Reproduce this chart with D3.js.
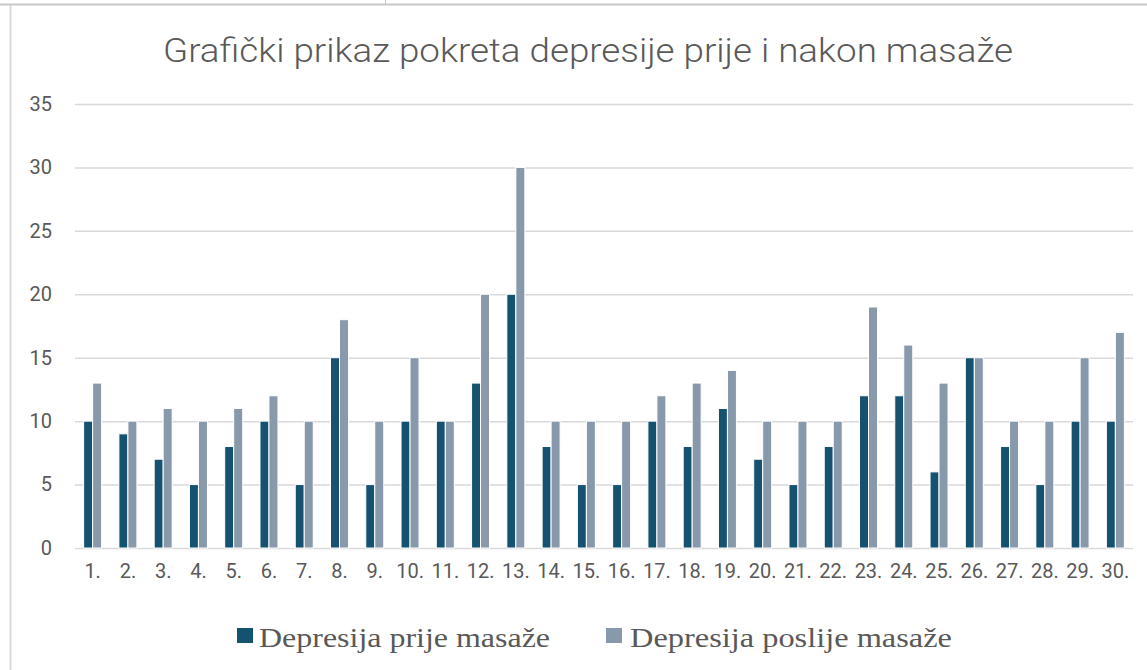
<!DOCTYPE html>
<html>
<head>
<meta charset="utf-8">
<script src="https://cdn.jsdelivr.net/npm/d3@7"></script>
<style>
  body { margin: 0; background: #fff; }
  svg { display: block; }
</style>
</head>
<body>
<div class="chart"></div>
<script>
const categories = ['1.', '2.', '3.', '4.', '5.', '6.', '7.', '8.', '9.', '10.',
    '11.', '12.', '13.', '14.', '15.', '16.', '17.', '18.', '19.', '20.',
    '21.', '22.', '23.', '24.', '25.', '26.', '27.', '28.', '29.', '30.'];
const prije = [10, 9, 7, 5, 8, 10, 5, 15, 5, 10, 10, 13, 20, 8, 5, 5, 10, 8, 11, 7,
    5, 8, 12, 12, 6, 15, 8, 5, 10, 10];
const poslije = [13, 10, 11, 10, 11, 12, 10, 18, 10, 15, 10, 20, 30, 10, 10, 10, 12, 13, 14, 10,
    10, 10, 19, 16, 13, 15, 10, 10, 15, 17];
const seriesNames = ['Depresija prije masaže', 'Depresija poslije masaže'];
const yTicks = [0, 5, 10, 15, 20, 25, 30, 35];
const title = 'Grafički prikaz pokreta depresije prije i nakon masaže';

const width = 1147, height = 670;
const colors = ['#145270', '#8799ab'];
const textColor = '#595959';

const svg = d3.select('.chart').append('svg')
    .attr('width', width)
    .attr('height', height);

// frame of the embedded chart object
svg.append('line').attr('x1', 0).attr('x2', width).attr('y1', 4.5).attr('y2', 4.5)
    .style('stroke', '#c8c8c8').style('stroke-width', 2);
svg.append('line').attr('x1', 10.5).attr('x2', 10.5).attr('y1', 5).attr('y2', height)
    .style('stroke', '#d9d9d9').style('stroke-width', 2);
svg.append('line').attr('x1', 385.5).attr('x2', 385.5).attr('y1', 0).attr('y2', 4)
    .style('stroke', '#c8c8c8');

const plot = {left: 75, right: 1133, top: 104, bottom: 548};

const x = d3.scaleBand()
    .domain(categories)
    .range([plot.left, plot.right])
    .paddingInner(0.49)
    .paddingOuter(0.245);

const x1 = d3.scaleBand()
    .domain([0, 1])
    .range([0, x.bandwidth()]);

const y = d3.scaleLinear()
    .domain([0, 35])
    .range([plot.bottom, plot.top]);

// title
svg.append('text')
    .attr('x', 588)
    .attr('y', 62)
    .attr('text-anchor', 'middle')
    .attr('textLength', 850)
    .attr('lengthAdjust', 'spacingAndGlyphs')
    .style('font-family', 'Roboto, Liberation Sans, Arial, sans-serif')
    .style('font-weight', 300)
    .style('font-size', '34px')
    .style('fill', textColor)
    .text(title);

// gridlines
svg.append('g')
    .selectAll('line')
    .data(yTicks)
    .enter().append('line')
    .attr('x1', plot.left)
    .attr('x2', plot.right)
    .attr('y1', d => y(d) + 0.5)
    .attr('y2', d => y(d) + 0.5)
    .style('stroke', '#d9d9d9')
    .style('stroke-width', 1.5);

// y axis labels
const yAxis = svg.append('g')
    .attr('transform', 'translate(' + (plot.left - 23) + ',0)')
    .call(d3.axisLeft(y).tickValues(yTicks).tickSize(0).tickPadding(0));
yAxis.select('.domain').remove();
yAxis.selectAll('text')
    .style('font-family', 'Roboto, Liberation Sans, Arial, sans-serif')
    .style('font-size', '20px')
    .style('fill', textColor);

// x axis labels
const xAxis = svg.append('g')
    .attr('transform', 'translate(0,' + plot.bottom + ')')
    .call(d3.axisBottom(x).tickSize(0).tickPadding(16));
xAxis.select('.domain').remove();
xAxis.selectAll('text')
    .style('font-family', 'Roboto, Liberation Sans, Arial, sans-serif')
    .style('font-size', '20px')
    .style('fill', textColor);

// bars
const rows = categories.map((c, i) => ({cat: c, vals: [prije[i], poslije[i]]}));
const groups = svg.append('g')
    .selectAll('g')
    .data(rows)
    .enter().append('g')
    .attr('transform', d => 'translate(' + x(d.cat) + ',0)');

groups.selectAll('rect')
    .data(d => d.vals.map((v, k) => ({k: k, v: v})))
    .enter().append('rect')
    .attr('x', d => x1(d.k))
    .attr('y', d => y(d.v))
    .attr('width', x1.bandwidth())
    .attr('height', d => y(0) - y(d.v))
    .style('fill', d => colors[d.k])
    .style('stroke', '#fff')
    .style('stroke-width', 1);

// legend
const legendX = [237, 606];
const legendW = [291, 322];
const legend = svg.append('g')
    .selectAll('g')
    .data(seriesNames)
    .enter().append('g')
    .attr('transform', (d, i) => 'translate(' + legendX[i] + ',628)');
legend.append('rect')
    .attr('width', 16)
    .attr('height', 15)
    .style('fill', (d, i) => colors[i]);
legend.append('text')
    .attr('x', (d, i) => i === 0 ? 22 : 24)
    .attr('y', 19)
    .attr('textLength', (d, i) => legendW[i])
    .attr('lengthAdjust', 'spacingAndGlyphs')
    .style('font-family', 'Liberation Serif, Times New Roman, serif')
    .style('font-size', '28px')
    .style('fill', textColor)
    .text(d => d);
</script>
</body>
</html>
